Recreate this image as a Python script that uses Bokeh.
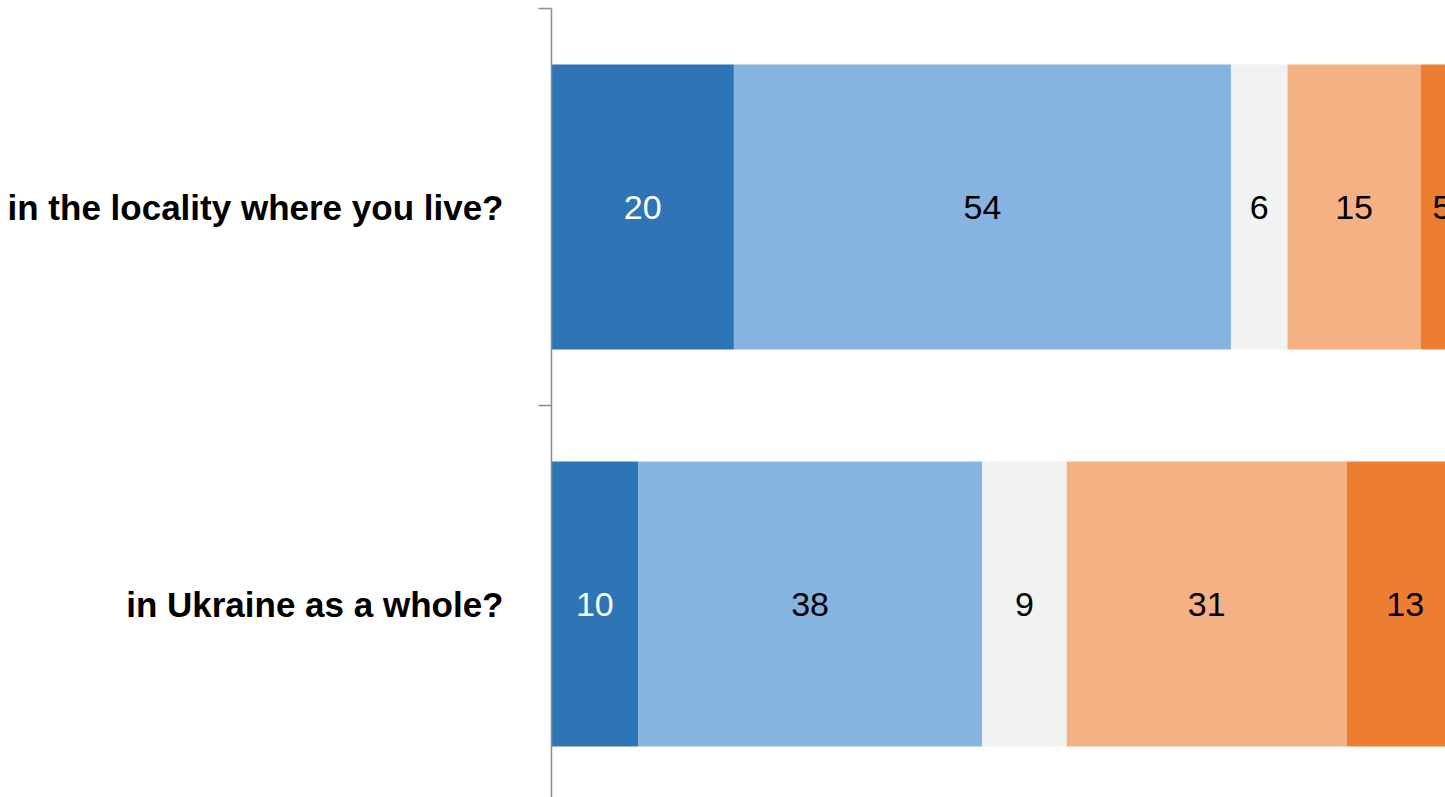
from bokeh.plotting import figure
from bokeh.models import Range1d, FixedTicker, ColumnDataSource
from bokeh.embed import file_html
from bokeh.resources import INLINE
from bokeh.core.properties import value

# ---- data ----
questions = ["in the locality where you live?", "in Ukraine as a whole?"]
segment_colors = ["#2E75B6", "#85B4E0", "#F2F2F2", "#F4B183", "#ED7D31"]
text_colors = ["white", "black", "black", "black", "black"]
locality_values = [20.0, 54.5, 6.2, 14.6, 4.7]
ukraine_values = [9.5, 37.7, 9.3, 30.7, 12.8]
locality_labels = ["20", "54", "6", "15", "5"]
ukraine_labels = ["10", "38", "9", "31", "13"]

series_values = [locality_values, ukraine_values]
series_labels = [locality_labels, ukraine_labels]

n = len(questions)
ys = [n - i - 0.5 for i in range(n)]

left, right, bottom, top, fill, tx, ty, tlab, tcol = [], [], [], [], [], [], [], [], []
bar_h = 0.718
for i, (vals, labs) in enumerate(zip(series_values, series_labels)):
    start = 0.0
    for j, v in enumerate(vals):
        left.append(start)
        right.append(start + v)
        bottom.append(ys[i] - bar_h / 2)
        top.append(ys[i] + bar_h / 2)
        fill.append(segment_colors[j])
        tx.append(start + v / 2)
        ty.append(ys[i])
        tlab.append(labs[j])
        tcol.append(text_colors[j])
        start += v

bars = ColumnDataSource(dict(left=left, right=right, bottom=bottom, top=top, fill=fill))
texts = ColumnDataSource(dict(x=tx, y=ty, text=tlab, color=tcol))

W, H = 1445, 797
px_per_unit = 9.12
frame_left = 551
frame_top = 8
x_end = (W - frame_left) / px_per_unit
y_end = n
y_start = n - (H - frame_top) / 397.0

p = figure(width=W, height=H, output_backend="svg", toolbar_location=None,
           x_range=Range1d(0, x_end), y_range=Range1d(y_start, y_end),
           min_border_left=frame_left, min_border_right=0, min_border_top=frame_top,
           min_border_bottom=0, outline_line_color=None)
p.xaxis.visible = False
p.xgrid.visible = False
p.ygrid.visible = False

p.quad(left="left", right="right", bottom="bottom", top="top", fill_color="fill",
       line_color=None, source=bars)
p.text(x="x", y="y", text="text", text_color="color", source=texts,
       text_align="center", text_baseline="middle",
       text_font=value("Liberation Sans"),
       text_font_size="34px")

ax = p.yaxis[0]
ax.ticker = FixedTicker(ticks=ys, minor_ticks=[float(k) for k in range(n + 1)])
ax.major_label_overrides = {y: q for y, q in zip(ys, questions)}
ax.axis_line_color = "#8C8C8C"
ax.axis_line_width = 1.5
ax.major_tick_line_color = None
ax.major_tick_out = 0
ax.major_tick_in = 0
ax.minor_tick_line_color = "#8C8C8C"
ax.minor_tick_line_width = 1.5
ax.minor_tick_out = 13
ax.minor_tick_in = 0
ax.major_label_standoff = 35
ax.major_label_text_font = "Liberation Sans"
ax.major_label_text_font_style = "bold"
ax.major_label_text_font_size = "35px"
ax.major_label_text_color = "black"

open("out.html", "w").write(file_html(p, INLINE))
